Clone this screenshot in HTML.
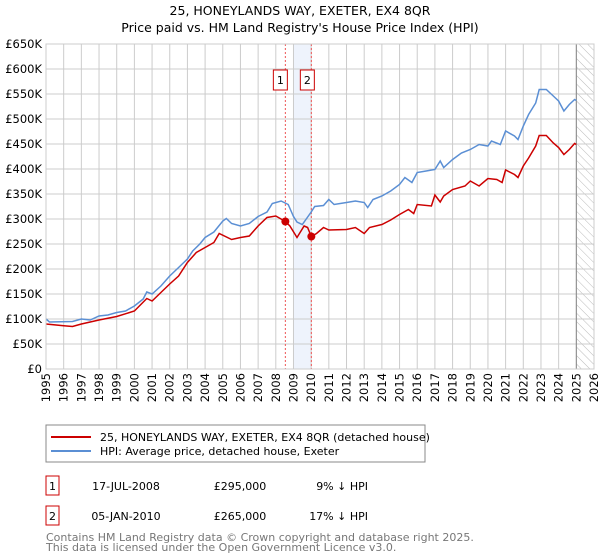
<!DOCTYPE html>
<html><head><meta charset="utf-8"><style>
body{margin:0;background:#fff;font-family:"DejaVu Sans","Liberation Sans",sans-serif;}
svg{display:block}
text{font-family:"DejaVu Sans","Liberation Sans",sans-serif}
</style></head><body>
<svg id="c" width="600" height="560">
<defs><pattern id="hatch" width="6" height="6" patternUnits="userSpaceOnUse" patternTransform="rotate(-45)"><line x1="0" y1="0" x2="0" y2="6" stroke="#bbb" stroke-width="1"/></pattern></defs>
<text x="300" y="15" text-anchor="middle" font-size="12.5">25, HONEYLANDS WAY, EXETER, EX4 8QR</text>
<text x="300" y="32" text-anchor="middle" font-size="12.5">Price paid vs. HM Land Registry's House Price Index (HPI)</text>
<g id="plot"></g>
<rect x="46" y="425" width="379" height="37" fill="#fff" stroke="#888"/>
<line x1="51" y1="437" x2="91" y2="437" stroke="#cc0000" stroke-width="2"/>
<text x="100" y="441" font-size="11">25, HONEYLANDS WAY, EXETER, EX4 8QR (detached house)</text>
<line x1="51" y1="451" x2="91" y2="451" stroke="#5b8fd4" stroke-width="2"/>
<text x="100" y="455" font-size="11">HPI: Average price, detached house, Exeter</text>
<g font-size="11">
<rect x="46" y="476" width="13" height="19" fill="none" stroke="#cc0000"/>
<text x="52.5" y="490" text-anchor="middle">1</text>
<text x="126" y="490" text-anchor="middle">17-JUL-2008</text>
<text x="240" y="490" text-anchor="middle">£295,000</text>
<text x="368" y="490" text-anchor="end">9% ↓ HPI</text>
<rect x="46" y="506" width="13" height="19" fill="none" stroke="#cc0000"/>
<text x="52.5" y="520" text-anchor="middle">2</text>
<text x="126" y="520" text-anchor="middle">05-JAN-2010</text>
<text x="240" y="520" text-anchor="middle">£265,000</text>
<text x="368" y="520" text-anchor="end">17% ↓ HPI</text>
</g>
<text x="46" y="541" font-size="11" fill="#777">Contains HM Land Registry data © Crown copyright and database right 2025.</text>
<text x="46" y="551" font-size="11" fill="#777">This data is licensed under the Open Government Licence v3.0.</text>
</svg>
<script>
const yTicks=[0,50,100,150,200,250,300,350,400,450,500,550,600,650];
const yTickLabels=["£0","£50K","£100K","£150K","£200K","£250K","£300K","£350K","£400K","£450K","£500K","£550K","£600K","£650K"];
const years=[1995,1996,1997,1998,1999,2000,2001,2002,2003,2004,2005,2006,2007,2008,2009,2010,2011,2012,2013,2014,2015,2016,2017,2018,2019,2020,2021,2022,2023,2024,2025,2026];
const hpiT=[1995,1995.2,1996.5,1997,1997.5,1998,1998.5,1999,1999.5,2000,2000.5,2000.7,2001,2001.5,2002,2002.5,2003,2003.3,2003.7,2004,2004.5,2005,2005.2,2005.5,2006,2006.5,2007,2007.5,2007.8,2008.3,2008.7,2009,2009.2,2009.5,2010,2010.2,2010.7,2011,2011.3,2012,2012.5,2013,2013.2,2013.5,2014,2014.5,2015,2015.3,2015.7,2016,2016.5,2017,2017.3,2017.5,2018,2018.5,2019,2019.5,2020,2020.2,2020.7,2021,2021.5,2021.7,2022,2022.3,2022.7,2022.9,2023.3,2023.7,2024,2024.3,2024.6,2024.9,2025];
const hpiV=[100,94,95,100,98,106,108,113,116,126,140,154,150,166,186,203,220,236,250,263,274,296,301,291,286,291,305,314,331,336,329,305,294,289,314,325,327,339,329,333,336,333,323,339,346,356,369,383,373,393,396,399,416,403,419,432,439,449,446,456,449,476,466,459,486,509,532,559,559,546,536,516,529,539,537];
const propT=[1995,1996,1996.5,1997,1998,1999,2000,2000.7,2001,2001.5,2002,2002.5,2003,2003.5,2004,2004.5,2004.8,2005.5,2006,2006.5,2007,2007.5,2008,2008.54,2008.8,2009.2,2009.6,2009.8,2010.01,2010.3,2010.7,2011,2012,2012.5,2013,2013.3,2014,2014.5,2015,2015.5,2015.8,2016,2016.8,2017,2017.3,2017.5,2018,2018.7,2019,2019.5,2020,2020.5,2020.8,2021,2021.5,2021.7,2022,2022.3,2022.7,2022.9,2023.3,2023.7,2024,2024.3,2024.6,2024.9,2025];
const propV=[90,86.5,85,90,98,105,116,141,136,153,170,186,213,233,243,253,271,259,263,266,286,303,306,295,286,263,286,283,265,271,283,278,279,283,271,283,289,298,309,319,311,329,326,348,334,346,359,366,376,366,381,379,373,398,389,383,406,422,446,467,467,452,443,429,439,451,449];
const saleT=[2008.54,2010.01];
const saleV=[295,265];
const saleLabels=["1","2"];
const L=46,R=594,T=44,B=369;
const X=t=>L+(t-1995)/(2026-1995)*(R-L);
const Y=v=>B-v/650*(B-T);
const NS="http://www.w3.org/2000/svg";
const g=document.getElementById('plot');
function mk(tag,a,parent){const e=document.createElementNS(NS,tag);for(const k in a)e.setAttribute(k,a[k]);(parent||g).appendChild(e);return e;}
// shading
let sh=mk('rect',{x:X(2009),y:T,width:X(2010)-X(2009),height:B-T,fill:'#eef3fc'});


let ht=mk('rect',{x:X(2025),y:T,width:R-X(2025),height:B-T,fill:'url(#hatch)'});


yTicks.forEach((v,i)=>{
 let l=mk('line',{x1:L,x2:R,y1:Y(v),y2:Y(v),stroke:'#ccc'});
 
 
 let t=mk('text',{x:L-4,y:Y(v)+4,'text-anchor':'end','font-size':'11.5'});t.textContent=yTickLabels[i];
 
 
});
years.forEach(y=>{
 let l=mk('line',{x1:X(y),x2:X(y),y1:T,y2:B,stroke:'#ccc'});
 
 
 let t=mk('text',{x:0,y:0,'text-anchor':'end','font-size':'11.5',transform:`translate(${X(y)+4},${B+4}) rotate(-90)`});t.textContent=y;
 
 
});
let fl=mk('line',{x1:X(2025),x2:X(2025),y1:T,y2:B,stroke:'#888'});


saleT.forEach((t,i)=>{
 let l=mk('line',{x1:X(t),x2:X(t),y1:T,y2:B,stroke:'#ee5555','stroke-dasharray':'2,2'});
 
 
 let off=i==0?-4:-3;
 let r=mk('rect',{x:X(t)+off-8,y:70,width:14,height:20,fill:'#fff',stroke:'#cc0000'});
 
 
 let tx=mk('text',{x:X(t)+off-1,y:84,'text-anchor':'middle','font-size':'11'});tx.textContent=saleLabels[i];
 
 
});
function path(ts,vs,col,name){
 let d=ts.map((t,i)=>(i?'L':'M')+X(t).toFixed(1)+','+Y(vs[i]).toFixed(1)).join('');
 let p=mk('path',{d:d,fill:'none',stroke:col,'stroke-width':1.5});
 
 
}
path(hpiT,hpiV,'#5b8fd4','hpi-line');
path(propT,propV,'#cc0000','property-line');
saleT.forEach((t,i)=>{
 let c=mk('circle',{cx:X(t),cy:Y(saleV[i]),r:4,fill:'#cc0000'});
 
 
});
let ax=mk('rect',{x:L,y:T,width:R-L,height:B-T,fill:'none',stroke:'#ccc'});


</script>
</body></html>
